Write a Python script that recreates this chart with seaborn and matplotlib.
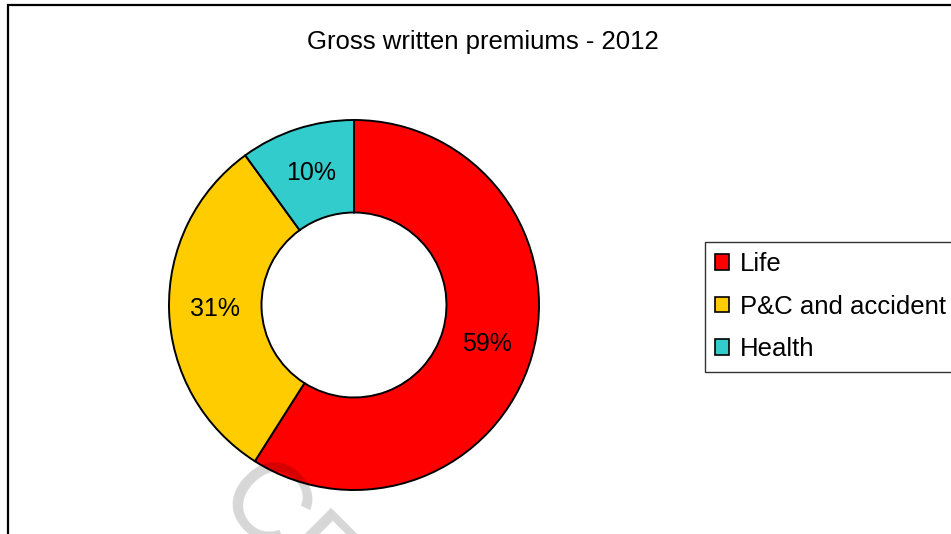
import matplotlib
matplotlib.use("Agg")
import matplotlib.pyplot as plt
import matplotlib.patches as mpatches
import seaborn as sns

categories = ["Life", "P&C and accident", "Health"]
shares = [59, 31, 10]
colors = ["#FF0000", "#FFCC00", "#33CCCC"]
title = "Gross written premiums - 2012"

sns.set_theme(style="white")
plt.rcParams["font.family"] = ["Liberation Sans", "DejaVu Sans"]
plt.rcParams["text.color"] = "black"

W, H = 951, 534
fig = plt.figure(figsize=(W / 100, H / 100), dpi=100)
fig.patch.set_facecolor("white")

cx, cy, r = 354, 305, 185
ax = fig.add_axes([(cx - r) / W, (H - cy - r) / H, 2 * r / W, 2 * r / H])
wedges, texts, autotexts = ax.pie(
    shares,
    colors=colors,
    startangle=90,
    counterclock=False,
    autopct=lambda p: f"{p:.0f}%",
    pctdistance=0.75,
    wedgeprops=dict(width=0.5, edgecolor="black", linewidth=1.4),
    textprops=dict(fontsize=18, color="black"),
)
ax.set_xlim(-1.0, 1.0)
ax.set_ylim(-1.0, 1.0)
ax.set_aspect("equal")
ax.axis("off")

fig.text(483 / W, 1 - 42 / H, title, ha="center", va="center",
         fontsize=18.5, color="black")

handles = [mpatches.Patch(facecolor=c, edgecolor="black", linewidth=1.2) for c in colors]
leg = fig.legend(
    handles, categories,
    loc="upper left",
    bbox_to_anchor=(705 / W, 1 - 242 / H),
    frameon=True, fancybox=False,
    fontsize=18.5, labelcolor="black",
    handlelength=0.55, handleheight=0.55, handletextpad=0.4,
    labelspacing=0.72, borderpad=0.4, borderaxespad=0.0,
)
leg.get_frame().set_edgecolor("black")
leg.get_frame().set_linewidth(1.0)

# outer frame
frame = mpatches.Rectangle((8 / W, -0.1), 1.2, 1 - 5 / H + 0.1,
                           transform=fig.transFigure, fill=False,
                           edgecolor="black", linewidth=1.6, zorder=0)
fig.add_artist(frame)

# watermark (cut by the lower edge, as in the source image)
fig.text(212 / W, 1 - 502 / H, "CE", rotation=-45, fontsize=80,
         color=(0, 0, 0, 0.16), ha="left", va="baseline",
         rotation_mode="anchor", zorder=5)

fig.savefig("out.png", dpi=100)
